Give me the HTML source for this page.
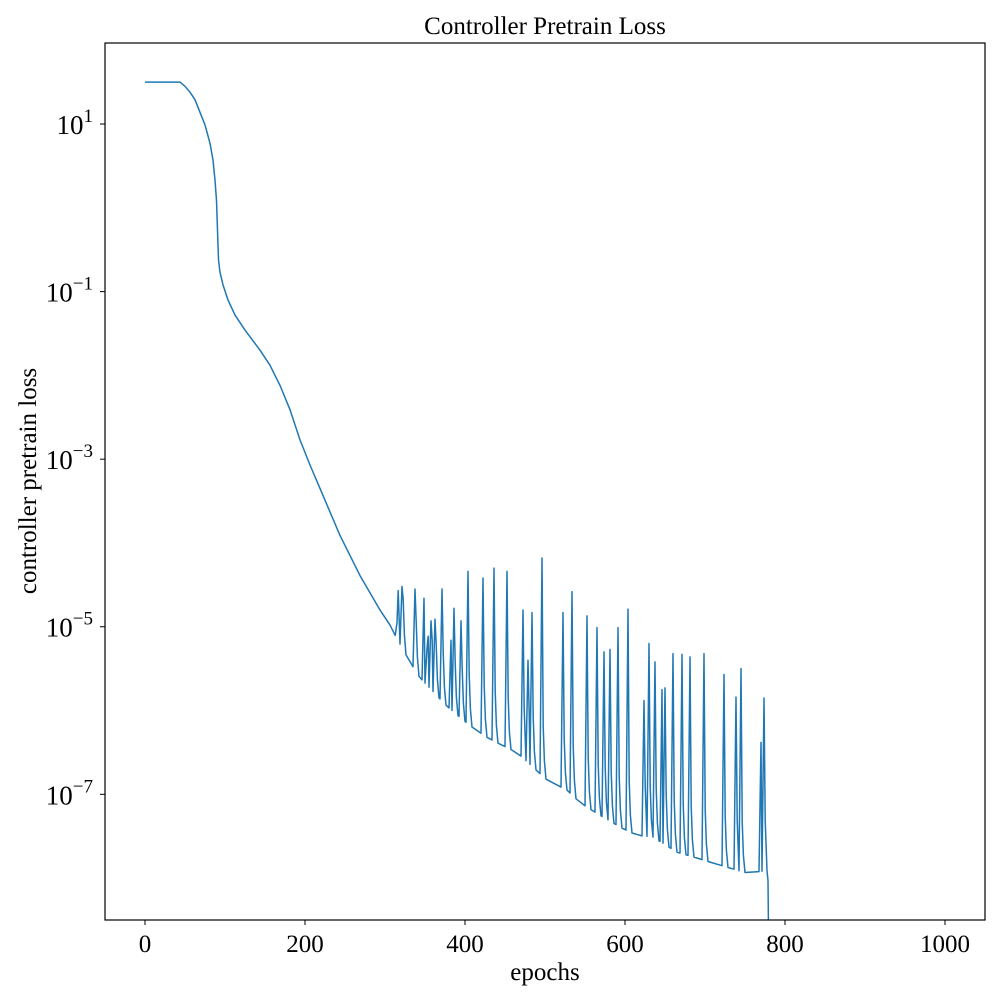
<!DOCTYPE html>
<html><head><meta charset="utf-8"><style>
html,body{margin:0;padding:0;background:#fff;}
svg{display:block;font-family:"Liberation Serif","DejaVu Serif",serif;}
</style></head><body>
<svg id="chart" width="1000" height="1000" viewBox="0 0 1000 1000">
<rect x="0" y="0" width="1000" height="1000" fill="#fff"/>
<text x="545" y="34" font-size="25" text-anchor="middle">Controller Pretrain Loss</text>
<text x="545" y="980" font-size="25" text-anchor="middle">epochs</text>
<text transform="translate(36,481) rotate(-90)" font-size="25" text-anchor="middle">controller pretrain loss</text>
<g id="ticks"></g>
<clipPath id="clip"><rect x="105" y="43" width="880" height="877"/></clipPath>
<polyline id="line" clip-path="url(#clip)" fill="none" stroke="#1f77b4" stroke-width="1.5" stroke-linejoin="round"/>
<rect x="105" y="43" width="880" height="877" fill="none" stroke="#000" stroke-width="1.2"/>
</svg>
<script>
const xTicks = [0, 200, 400, 600, 800, 1000];
const yTickExps = [1, -1, -3, -5, -7];
// smooth decay: epoch, log10(loss)
const smoothEpochs = [0,43.75,50,56.25,62.5,68.75,75,81.25,85,87.5,89.4,90.6,91.9,93.75,97.5,103.75,112.5,125,143.75,156.25,168.75,181.25,193.75,206.25,225,243.75,268.75,293.75,306.25,312.5];
const smoothLogs = [1.50,1.50,1.45,1.38,1.29,1.14,0.99,0.77,0.57,0.33,0.09,-0.27,-0.62,-0.77,-0.92,-1.10,-1.28,-1.46,-1.70,-1.88,-2.12,-2.41,-2.77,-3.07,-3.49,-3.91,-4.39,-4.80,-4.98,-5.10];
// trough baseline in spiky region
const baseEpochs = [312.5,331.25,343.75,378.75,406.25,427.5,441.25,465,502.5,527.5,543.75,568.75,597.5,615,635,665,690,710,752.5,777.5,778.75,779.4];
const baseLogs = [-5.10,-5.42,-5.61,-5.96,-6.18,-6.32,-6.39,-6.50,-6.83,-6.95,-7.10,-7.25,-7.41,-7.49,-7.51,-7.69,-7.76,-7.82,-7.94,-7.91,-8.03,-8.62];
// spikes
const spikeEpochs = [315,321.25,337.5,348.75,352.5,357.5,362.5,371.25,382.5,386.25,395,403.75,422.5,436.25,452.5,472.5,478.75,483.75,496.25,522.5,533.75,552.5,565,573.75,581.25,591.25,603.75,623.75,630,637.5,646.25,650,660,671.25,681.25,698.75,723.75,738.75,745,770,773.75];
const spikeLogs = [-4.95,-4.52,-4.55,-4.66,-5.26,-4.93,-4.91,-4.55,-5.16,-4.78,-4.93,-4.34,-4.42,-4.30,-4.34,-4.80,-5.40,-4.83,-4.18,-4.83,-4.58,-4.87,-5.01,-5.30,-5.27,-5.01,-4.79,-5.88,-5.20,-5.42,-5.75,-5.73,-5.32,-5.33,-5.36,-5.32,-5.57,-5.84,-5.50,-6.38,-5.85];

const X0=105, X1=985, Y0=43, Y1=920;
const xMin=-50, xMax=1050, yMax=1.967, yMin=-8.5;
function sx(e){return X0+(e-xMin)/(xMax-xMin)*(X1-X0);}
function sy(l){return Y0+(yMax-l)/(yMax-yMin)*(Y1-Y0);}
function base(e){
  for(let i=0;i<baseEpochs.length-1;i++){
    if(e>=baseEpochs[i]&&e<=baseEpochs[i+1]){
      const t=(e-baseEpochs[i])/(baseEpochs[i+1]-baseEpochs[i]);
      return baseLogs[i]+t*(baseLogs[i+1]-baseLogs[i]);
    }
  }
  return baseLogs[baseLogs.length-1];
}
const pts=[];
for(let i=0;i<smoothEpochs.length;i++) pts.push([smoothEpochs[i],smoothLogs[i]]);
let last=smoothEpochs[smoothEpochs.length-1];
for(let i=0;i<spikeEpochs.length;i++){
  const e=spikeEpochs[i];
  const next=i+1<spikeEpochs.length?spikeEpochs[i+1]-2.5:1e9;
  const a=Math.max(last+0.2,e-2.5);
  if(a<e) pts.push([a,Math.max(base(a),pts[pts.length-1][1]<spikeLogs[i]?base(a):base(a))]);
  pts.push([e,spikeLogs[i]]);
  last=e;
  const trail=[[1.5,0.6],[3,0.2],[5,0]];
  for(const [d,off] of trail){
    if(e+d<next && e+d<777){ pts.push([e+d,base(e+d)+off]); last=e+d; }
  }
}
for(let i=0;i<baseEpochs.length;i++) if(baseEpochs[i]>last) pts.push([baseEpochs[i],baseLogs[i]]);
document.getElementById('line').setAttribute('points',pts.map(p=>sx(p[0]).toFixed(1)+','+sy(p[1]).toFixed(1)).join(' '));

const g=document.getElementById('ticks');
const NS='http://www.w3.org/2000/svg';
xTicks.forEach(v=>{
  const x=sx(v);
  const l=document.createElementNS(NS,'line');
  l.setAttribute('x1',x);l.setAttribute('x2',x);l.setAttribute('y1',Y1);l.setAttribute('y2',Y1+5);
  l.setAttribute('stroke','#000');l.setAttribute('stroke-width','1');
  
  
  g.appendChild(l);
  const t=document.createElementNS(NS,'text');
  t.setAttribute('x',x);t.setAttribute('y',Y1+32);t.setAttribute('font-size','25');t.setAttribute('text-anchor','middle');
  t.textContent=v;
  
  
  g.appendChild(t);
});
yTickExps.forEach(v=>{
  const y=sy(v);
  const l=document.createElementNS(NS,'line');
  l.setAttribute('x1',X0-5);l.setAttribute('x2',X0);l.setAttribute('y1',y);l.setAttribute('y2',y);
  l.setAttribute('stroke','#000');l.setAttribute('stroke-width','1');
  
  
  g.appendChild(l);
  const t=document.createElementNS(NS,'text');
  t.setAttribute('x',X0-12);t.setAttribute('y',y+10);t.setAttribute('font-size','27');t.setAttribute('text-anchor','end');
  const ts=document.createElementNS(NS,'tspan');ts.textContent='10';t.appendChild(ts);
  const sup=document.createElementNS(NS,'tspan');sup.setAttribute('dy','-12');sup.setAttribute('font-size','19');
  sup.textContent=(v<0?'\u2212'+(-v):String(v));t.appendChild(sup);
  
  
  g.appendChild(t);
});
</script>
</body></html>
